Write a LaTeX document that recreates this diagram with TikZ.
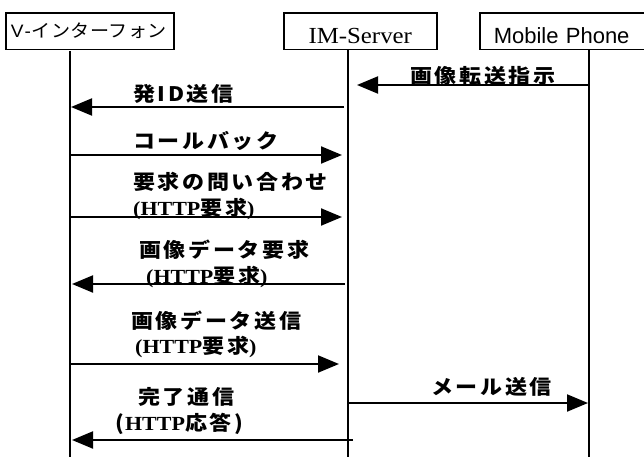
\documentclass[tikz,border=0pt]{standalone}
\usepackage{fontspec}
\usepackage{graphicx}
\usetikzlibrary{arrows.meta}
\setmainfont{Liberation Serif}
\newfontfamily\jpf[LetterSpace=12]{Noto Sans CJK JP}
\newfontfamily\jpbox[LetterSpace=2]{Noto Sans CJK JP}
\newfontfamily\arialf{Liberation Sans}
\newfontfamily\timesf{Liberation Serif}
\newcommand\lblfont{\fontsize{20}{23}\selectfont\jpf\bfseries}
\newcommand\httpf{\fontsize{20}{23}\selectfont\timesf\bfseries}
\newcommand\sx[1]{\scalebox{1.1}[1]{#1}}
\newcommand\hreq[1]{\sx{{\httpf(HTTP}{\lblfont #1}{\httpf)}}}
\tikzset{
  lbl/.style={anchor=base west, inner sep=0pt, font=\lblfont},
  msg/.style={line width=2pt, -{Triangle[length=21pt,width=17pt]}},
  life/.style={line width=1.6pt},
  actor/.style={draw, line width=1.5pt, inner sep=0pt, anchor=north west, minimum height=36.5pt},
}
\begin{document}
\begin{tikzpicture}[x=1pt,y=-1pt]
\path[use as bounding box] (0,0) rectangle (644,457);
% actor boxes
\node[actor, minimum width=168pt, text width=158pt, inner xsep=5pt, align=left,
      text height=13pt, text depth=0pt, font=\fontsize{18}{21}\selectfont]
  (vbox) at (5,12.5) {\scalebox{1.06}[1]{{\arialf V}\kern1pt{\arialf -}\kern1pt{\jpbox インターフォン}}};
\node[actor, minimum width=153pt, text height=24.5pt, text depth=0pt,
      font=\fontsize{23}{26}\selectfont\timesf]
  (ibox) at (283,12.5) {\scalebox{1.08}[1]{IM-Server}};
\node[actor, minimum width=168pt, text width=140pt, inner xsep=14pt, align=left,
      text height=24.5pt, text depth=0pt, font=\fontsize{22}{25}\selectfont\arialf]
  (mbox) at (479,12.5) {Mobile Phone};
% lifelines
\coordinate (vtop) at (70,51.5);  \coordinate (vend) at (70,457);
\coordinate (itop) at (348,49.5); \coordinate (iend) at (348,457);
\coordinate (mtop) at (589,49.5); \coordinate (mend) at (589,457);
\draw[life] (vtop) -- (vend);
\draw[life] (itop) -- (iend);
\draw[life] (mtop) -- (mend);
% message end points
\coordinate (m1) at (589,85);  \coordinate (i1) at (357,85);
\coordinate (i2) at (344,107); \coordinate (v2) at (71,107);
\coordinate (v3) at (70,155);  \coordinate (i3) at (342,155);
\coordinate (v4) at (70,217);  \coordinate (i4) at (342,217);
\coordinate (i5) at (345,284); \coordinate (v5) at (72,284);
\coordinate (v6) at (70,364);  \coordinate (i6) at (339,364);
\coordinate (i7) at (348,403); \coordinate (m7) at (588,403);
\coordinate (i8) at (353,440); \coordinate (v8) at (72,440);
\draw[msg] (m1) -- (i1);
\draw[msg] (i2) -- (v2);
\draw[msg] (v3) -- (i3);
\draw[msg] (v4) -- (i4);
\draw[msg] (i5) -- (v5);
\draw[msg] (v6) -- (i6);
\draw[msg] (i7) -- (m7);
\draw[msg] (i8) -- (v8);
% labels
\node[lbl] (l1) at (410,83.5) {\sx{画像転送指示}};
\node[lbl] (l2) at (133,101.5) {\sx{発ID送信}};
\node[lbl] (l3) at (133,148.5) {\sx{コールバック}};
\node[lbl] (l4) at (133,189.5) {\sx{要求の問い合わせ}};
\node[lbl] (l5) at (133,215) {\hreq{要求}};
\node[lbl] (l6) at (139,257.5) {\sx{画像データ要求}};
\node[lbl] (l7) at (146,283) {\hreq{要求}};
\node[lbl] (l8) at (131,328.5) {\sx{画像データ送信}};
\node[lbl] (l9) at (135,353.5) {\hreq{要求}};
\node[lbl] (l10) at (431,394.5) {\sx{メール送信}};
\node[lbl] (l11) at (138,404.5) {\sx{完了通信}};
\node[lbl] (l12) at (115,430.5) {\sx{(\kern1pt{\httpf HTTP}応答)}};
\end{tikzpicture}
\end{document}
